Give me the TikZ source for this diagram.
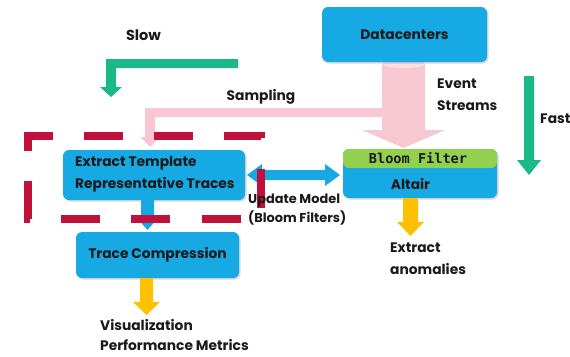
\documentclass[tikz,border=0pt]{standalone}
\usepackage{fontspec}
\setmainfont{Poppins}
\newfontfamily\monof{DejaVu Sans Mono}
\usetikzlibrary{shadows}
\definecolor{cblue}{HTML}{16A9E4}
\definecolor{cgreenarr}{HTML}{1BB98A}
\definecolor{cpink}{HTML}{F8C8D2}
\definecolor{cpinktop}{HTML}{FBDDE4}
\definecolor{corange}{HTML}{FFC000}
\definecolor{cred}{HTML}{C0103C}
\definecolor{clime}{HTML}{92D050}
\definecolor{ctext}{HTML}{1A1A1A}
\tikzset{
  box/.style={fill=cblue, rounded corners=6pt, inner sep=0pt,
    drop shadow={shadow xshift=1.5pt, shadow yshift=-1.5pt, opacity=0.3, fill=gray}},
  lbl/.style={font=\bfseries\fontsize{13.8}{22}\selectfont, text=ctext, inner sep=0pt},
}
\begin{document}
\begin{tikzpicture}[x=1pt,y=-1pt]
\useasboundingbox (0,0) rectangle (570,356);
% green slow arrow
\fill[cgreenarr] (238,59) -- (106,59) -- (106,87) -- (100,87) -- (111,97) -- (122,87) -- (116,87) -- (116,68) -- (238,68) -- cycle;
% green fast arrow
\fill[cgreenarr] (524,76) -- (524,160) -- (517,160) -- (529,175) -- (541,160) -- (534,160) -- (534,76) -- cycle;
% pink sampling arrow
\fill[cpink] (383,108) -- (145,108) -- (145,137) -- (140,137) -- (150,147) -- (160,137) -- (155,137) -- (155,117) -- (383,117) -- cycle;
% pink event stream arrow
\fill[cpink] (382,64) -- (382,130) -- (362,130) -- (403.5,148) -- (445,130) -- (425,130) -- (425,64) -- cycle;
\fill[cpinktop] (403.5,64) ellipse [x radius=21.5, y radius=4];
% boxes
\node[box, minimum width=165pt, minimum height=55pt] (dc) at (404.5,34.5) {};
\node[lbl] (dct) at (dc.center) {Datacenters};
\node[box, minimum width=182pt, minimum height=50pt] (ext) at (154,175) {};
\node[lbl, anchor=west, align=left] (extt) at (75,174) {Extract Template\\Representative Traces};
\node[box, minimum width=154pt, minimum height=49pt,
  path picture={\fill[clime] (path picture bounding box.north west) rectangle ([yshift=-19pt]path picture bounding box.north east);}] (alt) at (420,173.5) {};
\node[font=\monof\bfseries\fontsize{13.6}{15}\selectfont, text=ctext, inner sep=0pt] (bf) at (418,158.5) {Bloom Filter};
\node[lbl] (altt) at (410.5,184) {Altair};
\node[box, minimum width=163pt, minimum height=46pt] (tc) at (157.5,255) {};
\node[lbl] (tct) at (tc.center) {Trace Compression};
% blue arrows
\fill[cblue] (247,175) -- (262,164) -- (262,170) -- (325,170) -- (325,164) -- (340,175) -- (325,186) -- (325,180) -- (262,180) -- (262,186) -- cycle;
\fill[cblue] (141,200) -- (141,217) -- (136,217) -- (147.5,230) -- (159,217) -- (154,217) -- (154,200) -- cycle;
% orange arrows
\fill[corange] (403,198) -- (403,222) -- (397,222) -- (410.5,236) -- (424,222) -- (418,222) -- (418,198) -- cycle;
\fill[corange] (140,278) -- (140,302) -- (133,302) -- (146.5,315) -- (160,302) -- (153,302) -- (153,278) -- cycle;
% dashed red frame
\draw[cred, line width=8pt, line cap=butt, line join=miter, dash pattern=on 39pt off 31.2pt]
  (28,150) -- (28,135.5) -- (261,135.5) -- (261,218.5) -- (28,218.5) -- cycle;
% labels
\node[lbl, font=\bfseries\fontsize{14.5}{16}\selectfont] (slow) at (143.5,35) {Slow};
\node[lbl] (samp) at (261,97) {Sampling};
\node[lbl, anchor=west, align=left] (ev) at (437,95) {Event\\Streams};
\node[lbl, anchor=west] (fast) at (540,119) {Fast};
\node[lbl, anchor=west, align=left, font=\bfseries\fontsize{12.9}{19}\selectfont] (upd) at (248,210) {Update Model\\(Bloom Filters)};
\node[lbl, anchor=west, align=left] (anom) at (390,259) {Extract\\anomalies};
\node[lbl, anchor=west, align=left, font=\bfseries\fontsize{13.8}{20}\selectfont] (vis) at (100,335) {Visualization\\Performance Metrics};
\end{tikzpicture}
\end{document}
